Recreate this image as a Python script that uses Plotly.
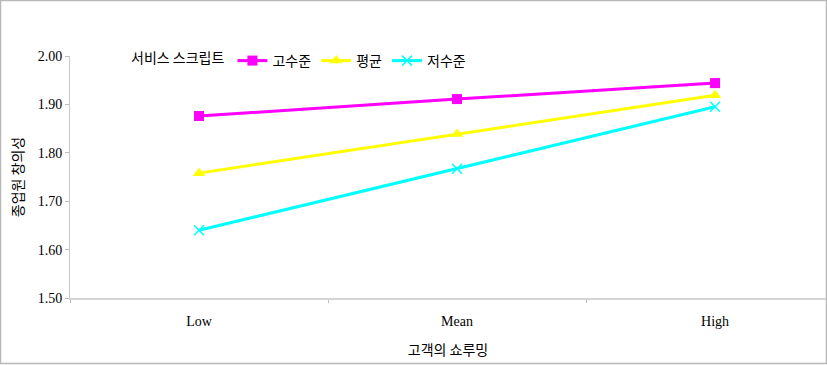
import plotly.graph_objects as go

categories = ["Low", "Mean", "High"]
series_names = ["고수준", "평균", "저수준"]
high_vals = [1.876, 1.911, 1.944]
mean_vals = [1.758, 1.839, 1.919]
low_vals = [1.640, 1.767, 1.895]
y_ticks = [1.50, 1.60, 1.70, 1.80, 1.90, 2.00]

W, H = 827, 365
ml, mr, mt, mb = 70, 1, 56, 67
pw, ph = W - ml - mr, H - mt - mb

kfont = "Noto Sans CJK KR"
sfont = "Liberation Serif"

fig = go.Figure()
fig.add_trace(go.Scatter(x=categories, y=high_vals, name=series_names[0], mode="lines+markers",
                         line=dict(color="#FF00FF", width=3),
                         marker=dict(symbol="square", size=10, color="#FF00FF")))
fig.add_trace(go.Scatter(x=categories, y=mean_vals, name=series_names[1], mode="lines+markers",
                         line=dict(color="#FFFF00", width=3),
                         marker=dict(symbol="triangle-up", size=11, color="#FFFF00")))
fig.add_trace(go.Scatter(x=categories, y=low_vals, name=series_names[2], mode="lines+markers",
                         line=dict(color="#00FFFF", width=3),
                         marker=dict(symbol="x-thin", size=10, color="#00FFFF",
                                     line=dict(color="#00FFFF", width=1.5))))

fig.update_layout(
    width=W, height=H,
    margin=dict(l=ml, r=mr, t=mt, b=mb),
    paper_bgcolor="white", plot_bgcolor="white",
    showlegend=True,
    legend=dict(orientation="h", x=(129 - ml) / pw, xanchor="left", y=1 - 5 / ph, yanchor="middle",
                title=dict(text="서비스 스크립트", font=dict(family=kfont, size=14, color="black"), side="left"),
                font=dict(family=kfont, size=14, color="black"),
                bgcolor="rgba(0,0,0,0)", itemwidth=30, tracegroupgap=0),
    xaxis=dict(type="category", range=[-0.5, 2.43], showgrid=False, zeroline=False,
               showline=True, linecolor="#d4d4d4", linewidth=1.5,
               ticks="outside", tickson="boundaries", ticklen=3, tickcolor="#bbbbbb",
               ticklabelstandoff=9,
               tickfont=dict(family=sfont, size=14, color="black"),
               title=dict(text="고객의 쇼루밍", font=dict(family=kfont, size=14, color="black"), standoff=18)),
    yaxis=dict(range=[1.50, 2.00], tickvals=y_ticks, tickformat=".2f", showgrid=False, zeroline=False,
               showline=True, linecolor="#c8c8c8", linewidth=1,
               ticks="outside", ticklen=4, tickcolor="#bbbbbb",
               tickfont=dict(family=sfont, size=14, color="black"),
               title=dict(text="종업원 창의성", font=dict(family=kfont, size=14, color="black"), standoff=10)),
)

fig.add_shape(type="rect", xref="paper", yref="paper",
              x0=-(ml - 0.5) / pw, x1=1 + (mr - 0.5) / pw,
              y0=-(mb - 1.5) / ph, y1=1 + (mt - 0.5) / ph,
              line=dict(color="#b8b8b8", width=1.5), fillcolor="rgba(0,0,0,0)", layer="below")

fig.write_html("out.html", config={"displayModeBar": False},
               post_script="document.body.style.margin='0';document.body.style.overflow='hidden';")
